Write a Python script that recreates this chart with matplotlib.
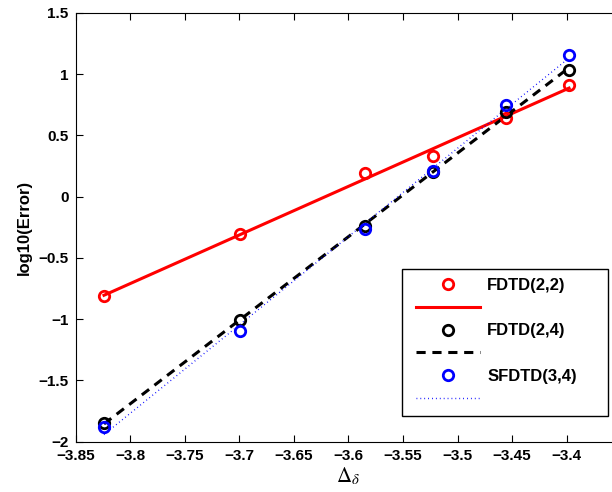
import matplotlib
matplotlib.use('Agg')
import matplotlib.pyplot as plt
from matplotlib.legend_handler import HandlerLine2D
from matplotlib.lines import Line2D
import numpy as np

# grid spacing (log10) and errors
delta = [-3.8239, -3.6990, -3.5850, -3.5229, -3.4559, -3.3979]
err_fdtd22 = [-0.81, -0.305, 0.195, 0.33, 0.645, 0.91]
err_fdtd24 = [-1.85, -1.005, -0.24, 0.20, 0.69, 1.035]
err_sfdtd34 = [-1.88, -1.10, -0.26, 0.21, 0.75, 1.157]
labels = ['FDTD(2,2)', 'FDTD(2,4)', 'SFDTD(3,4)']

plt.rcParams['font.family'] = ['Liberation Sans', 'DejaVu Sans']
plt.rcParams['mathtext.fontset'] = 'stix'

fig = plt.figure(figsize=(6.12, 4.92), dpi=100)
ax = fig.add_axes([75.5 / 612, 50.3 / 492, 545.8 / 612, 428.7 / 492])

x = np.array(delta)
styles = [
    (err_fdtd22, 'red', dict(linestyle='-', linewidth=2.2)),
    (err_fdtd24, 'black', dict(linestyle=(0, (3, 2.2)), linewidth=2.2)),
    (err_sfdtd34, 'blue', dict(linestyle=(0, (0.6, 2.2)), linewidth=1.0)),
]

handles = []
leg_labels = []
for (y, c, ls), name in zip(styles, labels):
    y = np.array(y)
    p = np.polyfit(x, y, 1)
    m, = ax.plot(x, y, 'o', markerfacecolor='none', markeredgecolor=c,
                 markeredgewidth=2.0, markersize=7.5, linestyle='none', zorder=3)
    l, = ax.plot(x, np.polyval(p, x), color=c, zorder=2, **ls)
    handles += [m, l]
    leg_labels += [name, '']

ax.set_xlim(-3.85, -3.35)
ax.set_ylim(-2, 1.5)
ax.set_xticks(np.arange(-3.85, -3.349, 0.05))
ax.set_xticklabels(['\u22123.85', '\u22123.8', '\u22123.75', '\u22123.7', '\u22123.65',
                    '\u22123.6', '\u22123.55', '\u22123.5', '\u22123.45', '\u22123.4', ''],
                   fontweight='bold', fontsize=11)
ax.set_yticks(np.arange(-2, 1.51, 0.5))
ax.set_yticklabels(['\u22122', '\u22121.5', '\u22121', '\u22120.5', '0', '0.5', '1', '1.5'],
                   fontweight='bold', fontsize=11)
ax.tick_params(direction='in', length=5, width=0.8, top=True, right=True, pad=5)

ax.set_xlabel(r'$\Delta_\delta$', fontsize=15, labelpad=2)
ax.set_ylabel('log10(Error)', fontsize=12, fontweight='bold', labelpad=5)

leg = ax.legend(handles, leg_labels, loc='upper left',
                bbox_to_anchor=(402 / 612, 78 / 492, 206 / 612, 145 / 492),
                bbox_transform=fig.transFigure, mode='expand', borderaxespad=0,
                prop={'weight': 'bold', 'size': 12},
                handlelength=4.15, handletextpad=0.42, labelspacing=0.46,
                borderpad=0.55, fancybox=False, edgecolor='black',
                framealpha=1, numpoints=1,
                handler_map={Line2D: HandlerLine2D(xpad=0.3)})
leg.get_frame().set_linewidth(1.0)

fig.savefig('out.png', dpi=100)
